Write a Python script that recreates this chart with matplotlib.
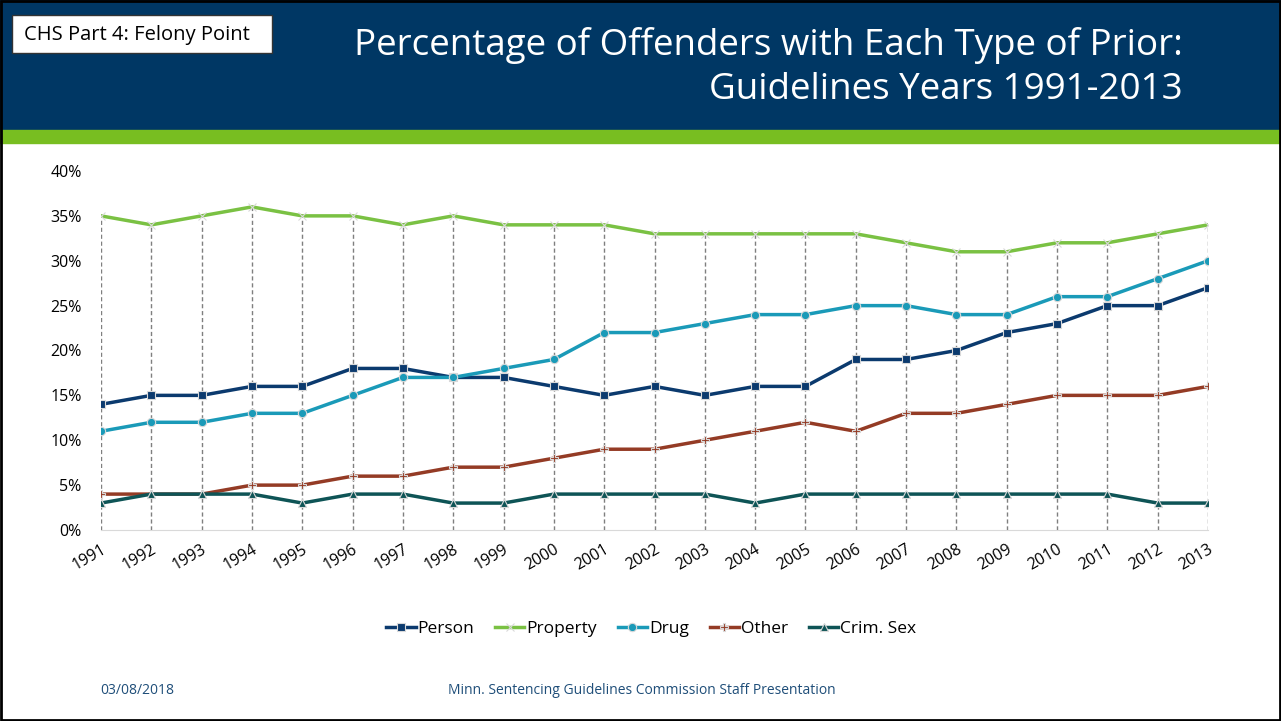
import matplotlib.pyplot as plt
from matplotlib.patches import Rectangle
from matplotlib.ticker import FuncFormatter

years = list(range(1991, 2014))
person = [14, 15, 15, 16, 16, 18, 18, 17, 17, 16, 15, 16, 15, 16, 16, 19, 19, 20, 22, 23, 25, 25, 27]
property_ = [35, 34, 35, 36, 35, 35, 34, 35, 34, 34, 34, 33, 33, 33, 33, 33, 32, 31, 31, 32, 32, 33, 34]
drug = [11, 12, 12, 13, 13, 15, 17, 17, 18, 19, 22, 22, 23, 24, 24, 25, 25, 24, 24, 26, 26, 28, 30]
other = [4, 4, 4, 5, 5, 6, 6, 7, 7, 8, 9, 9, 10, 11, 12, 11, 13, 13, 14, 15, 15, 15, 16]
crim_sex = [3, 4, 4, 4, 3, 4, 4, 3, 3, 4, 4, 4, 4, 3, 4, 4, 4, 4, 4, 4, 4, 3, 3]

series = [
    ("Person", person, "#0B3A6E", "s"),
    ("Property", property_, "#7AC143", "x"),
    ("Drug", drug, "#1A9AB8", "o"),
    ("Other", other, "#943B25", "P"),
    ("Crim. Sex", crim_sex, "#0E5456", "^"),
]

plt.rcParams["font.family"] = ["Open Sans", "DejaVu Sans"]

fig = plt.figure(figsize=(12.81, 7.21), dpi=100)

# header band + green strip + border
fig.patches.append(Rectangle((0, 1 - 130 / 721), 1, 130 / 721, transform=fig.transFigure,
                             color="#003764", zorder=0))
fig.patches.append(Rectangle((0, 1 - 143 / 721), 1, 13 / 721, transform=fig.transFigure,
                             color="#78BE21", zorder=0))
fig.patches.append(Rectangle((0.001, 0.002), 0.998, 0.996, transform=fig.transFigure,
                             fill=False, edgecolor="black", linewidth=2, zorder=5))
fig.patches.append(Rectangle((12 / 1281, 1 - 53 / 721), 260 / 1281, 38 / 721,
                             transform=fig.transFigure, facecolor="white",
                             edgecolor="#333333", linewidth=1, zorder=2))
fig.text(24 / 1281, 1 - 35 / 721, "CHS Part 4: Felony Point", fontsize=14.5,
         color="black", va="center", ha="left", zorder=3)
fig.text(1183 / 1281, 1 - 45 / 721, "Percentage of Offenders with Each Type of Prior:",
         fontsize=26.5, color="white", ha="right", va="center")
fig.text(1183 / 1281, 1 - 90 / 721, "Guidelines Years 1991-2013",
         fontsize=26.5, color="white", ha="right", va="center")

ax = fig.add_axes([101 / 1281, 1 - 530 / 721, 1107 / 1281, 359 / 721])

tops = [max(v) for v in zip(*[s[1] for s in series])]
ax.vlines(years, 0, tops, colors="#7F7F7F", linestyles=(0, (3, 2)), linewidth=1, zorder=1)

for name, vals, color, mk in series:
    ax.plot(years, vals, color=color, linewidth=2.5, marker=mk, markersize=6,
            markeredgecolor="#D9D9D9", markeredgewidth=0.8, label=name, zorder=3)

ax.set_xlim(1991, 2013)
ax.set_ylim(0, 40)
ax.set_yticks(range(0, 41, 5))
ax.yaxis.set_major_formatter(FuncFormatter(lambda v, p: f"{int(v)}%"))
ax.set_xticks(years)
ax.set_xticklabels([str(y) for y in years], rotation=30, ha="right", rotation_mode="anchor")
ax.tick_params(axis="x", length=0, labelsize=11.5, colors="#000000", pad=8)
ax.tick_params(axis="y", length=0, labelsize=11.5, colors="#000000", pad=14)
for side in ["top", "right", "left"]:
    ax.spines[side].set_visible(False)
ax.spines["bottom"].set_color("#D9D9D9")

ax.legend(loc="center", bbox_to_anchor=(0.497, -0.275), ncol=5, frameon=False,
          fontsize=12.5, handlelength=1.7, handletextpad=0.1, columnspacing=1.2)

fig.text(100 / 1281, 1 - 690 / 721, "03/08/2018", fontsize=10, color="#1F4E79",
         ha="left", va="center")
fig.text(642 / 1281, 1 - 690 / 721, "Minn. Sentencing Guidelines Commission Staff Presentation",
         fontsize=10, color="#1F4E79", ha="center", va="center")

fig.savefig("out.png", dpi=100)
